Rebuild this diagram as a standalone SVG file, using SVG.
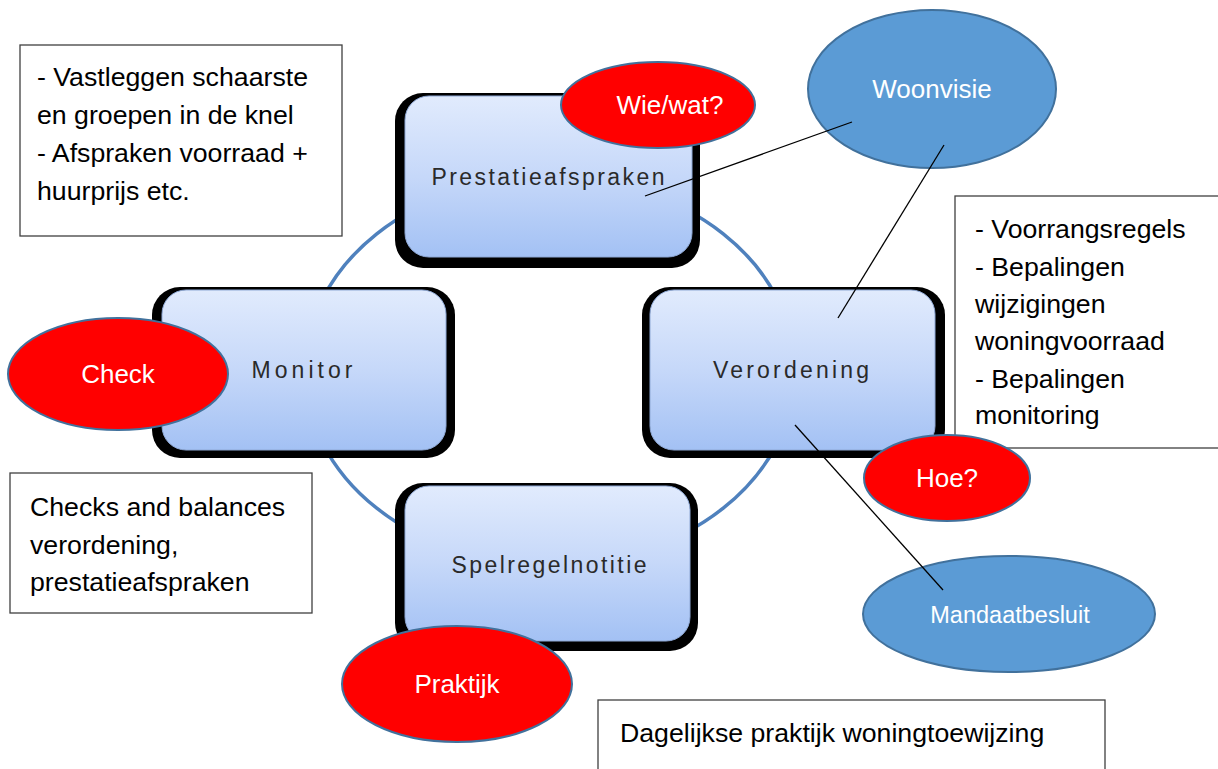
<svg xmlns="http://www.w3.org/2000/svg" width="1218" height="769" viewBox="0 0 1218 769">
<defs>
<linearGradient id="boxg" x1="0" y1="0" x2="0" y2="1">
<stop offset="0" stop-color="#E1EBFD"/>
<stop offset="0.5" stop-color="#C6D8F9"/>
<stop offset="1" stop-color="#A3C1F4"/>
</linearGradient>
<style>
.shadow{fill:#000}
.box{fill:url(#boxg);stroke:#8FA9D6;stroke-width:1}
.lbl{font-family:"Liberation Sans",Arial,sans-serif;font-size:23px;fill:#2a2a2a;text-anchor:middle}
.tb{fill:#fff;stroke:#404040;stroke-width:1.3}
.t{font-family:"Liberation Sans",Arial,sans-serif;font-size:26.7px;fill:#000}
.red{fill:#FF0000;stroke:#41719C;stroke-width:2}
.blue{fill:#5B9BD5;stroke:#41719C;stroke-width:2}
.et{font-family:"Liberation Sans",Arial,sans-serif;font-size:26px;fill:#fff;text-anchor:middle}
.conn{stroke:#000;stroke-width:1.3;fill:none}
</style>
</defs>
<rect width="1218" height="769" fill="#fff"/>
<g id="cycle">
<ellipse cx="550" cy="371" rx="245" ry="194" fill="none" stroke="#4F81BD" stroke-width="3.5"/>
</g>
<g id="node-prestatieafspraken">
<rect class="shadow" x="395" y="93" width="305" height="175" rx="28"/>
<rect class="box" x="405" y="96" width="287" height="161" rx="24"/>
<text class="lbl" x="548" y="185" textLength="233" lengthAdjust="spacing">Prestatieafspraken</text>
</g>
<g id="node-monitor">
<rect class="shadow" x="152" y="287" width="303" height="171" rx="28"/>
<rect class="box" x="162" y="290" width="284" height="160" rx="24"/>
<text class="lbl" x="302" y="378" textLength="101" lengthAdjust="spacing">Monitor</text>
</g>
<g id="node-verordening">
<rect class="shadow" x="642" y="287" width="303" height="171" rx="28"/>
<rect class="box" x="650" y="290" width="285" height="160" rx="24"/>
<text class="lbl" x="791" y="378" textLength="156" lengthAdjust="spacing">Verordening</text>
</g>
<g id="node-spelregelnotitie">
<rect class="shadow" x="395" y="483" width="303" height="168" rx="28"/>
<rect class="box" x="405" y="486" width="285" height="155" rx="24"/>
<text class="lbl" x="549" y="573" textLength="195" lengthAdjust="spacing">Spelregelnotitie</text>
</g>
<g id="note-prestatie">
<rect class="tb" x="20" y="45" width="322" height="191"/>
<text class="t" x="37" y="86">- Vastleggen schaarste</text>
<text class="t" x="37" y="124">en groepen in de knel</text>
<text class="t" x="37" y="162">- Afspraken voorraad +</text>
<text class="t" x="37" y="200">huurprijs etc.</text>
</g>
<g id="note-verordening">
<rect class="tb" x="955" y="196" width="270" height="252"/>
<text class="t" x="975" y="238">- Voorrangsregels</text>
<text class="t" x="975" y="276">- Bepalingen</text>
<text class="t" x="975" y="313">wijzigingen</text>
<text class="t" x="975" y="350">woningvoorraad</text>
<text class="t" x="975" y="388">- Bepalingen</text>
<text class="t" x="975" y="424">monitoring</text>
</g>
<g id="note-checks">
<rect class="tb" x="10" y="473" width="302" height="140"/>
<text class="t" x="30" y="516">Checks and balances</text>
<text class="t" x="30" y="554">verordening,</text>
<text class="t" x="30" y="591">prestatieafspraken</text>
</g>
<g id="note-dagelijks">
<rect class="tb" x="598" y="700" width="507" height="80"/>
<text class="t" x="620" y="742">Dagelijkse praktijk woningtoewijzing</text>
</g>
<g id="node-wiewat">
<ellipse class="red" cx="658" cy="105" rx="97" ry="43"/>
<text class="et" x="670" y="114">Wie/wat?</text>
</g>
<g id="node-woonvisie">
<ellipse class="blue" cx="932" cy="89" rx="124" ry="79"/>
<text class="et" x="932" y="98">Woonvisie</text>
</g>
<g id="node-check">
<ellipse class="red" cx="118" cy="374" rx="110" ry="56"/>
<text class="et" x="118" y="383">Check</text>
</g>
<g id="node-hoe">
<ellipse class="red" cx="947" cy="478" rx="83" ry="43"/>
<text class="et" x="947" y="487">Hoe?</text>
</g>
<g id="node-mandaatbesluit">
<ellipse class="blue" cx="1009" cy="614" rx="146" ry="58"/>
<text class="et" x="1010" y="623" style="font-size:23.5px">Mandaatbesluit</text>
</g>
<g id="node-praktijk">
<ellipse class="red" cx="457" cy="684" rx="115" ry="58"/>
<text class="et" x="457" y="693">Praktijk</text>
</g>
<g id="connectors">
<line class="conn" x1="852" y1="122" x2="645" y2="196"/>
<line class="conn" x1="944" y1="145" x2="838" y2="318"/>
<line class="conn" x1="795" y1="425" x2="943" y2="590"/>
</g>
</svg>
